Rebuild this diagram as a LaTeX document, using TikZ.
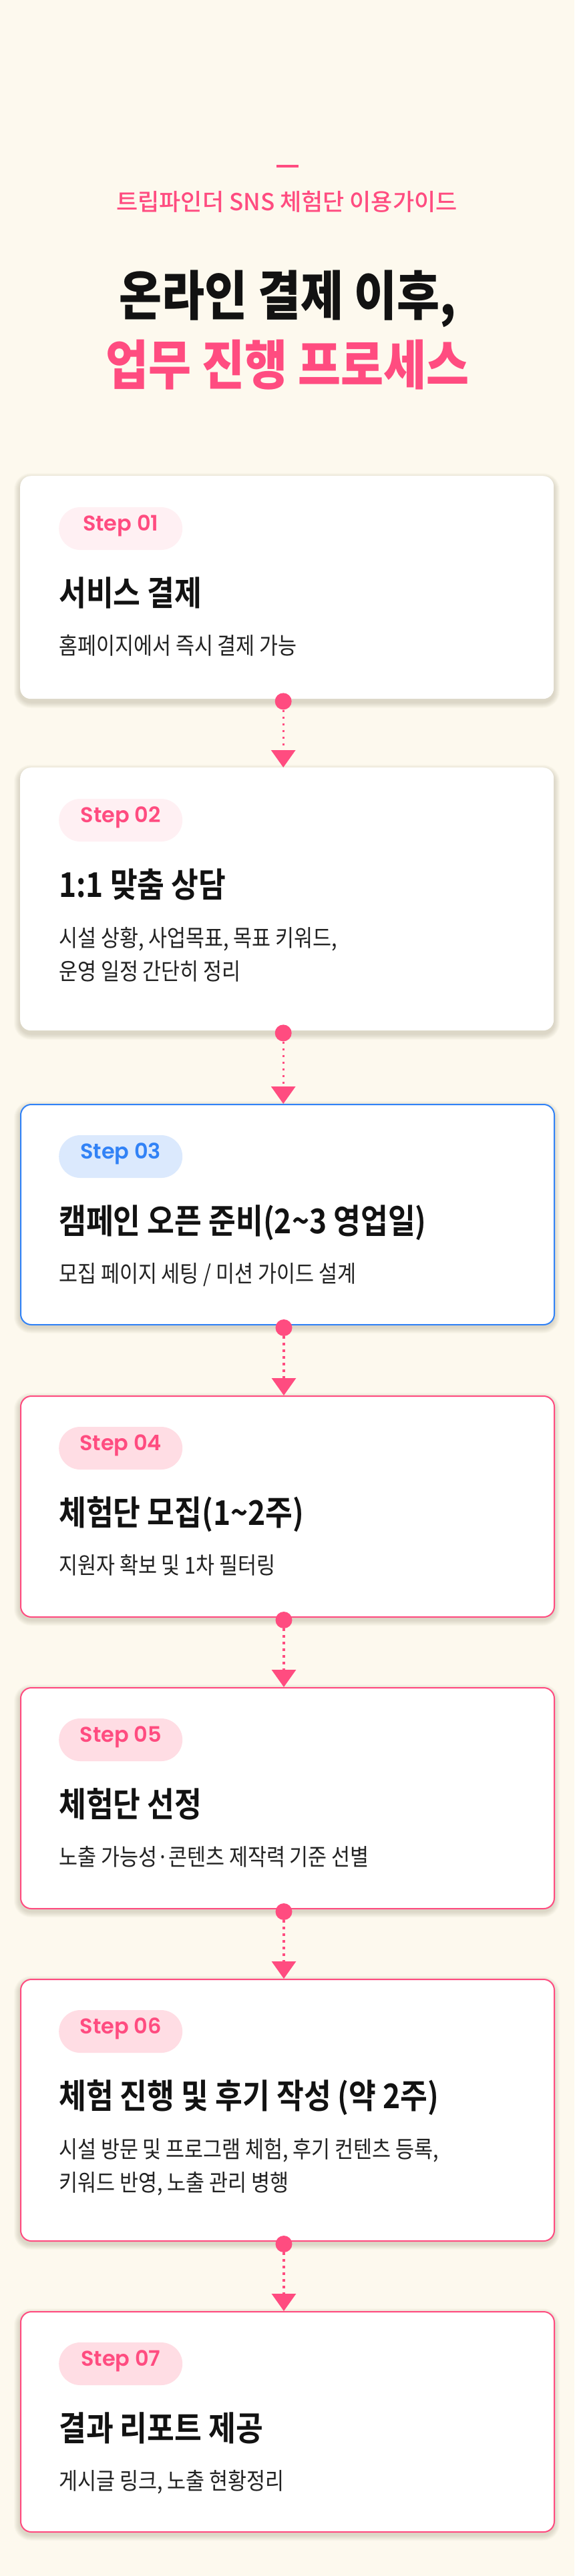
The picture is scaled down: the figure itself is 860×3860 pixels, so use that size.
\documentclass[tikz,border=0pt]{standalone}
\usepackage{fontspec}
\usetikzlibrary{arrows.meta,calc}

\IfFontExistsTF{Noto Sans CJK KR Bold}
  {\newfontfamily\krbold{Noto Sans CJK KR Bold}[FakeStretch=0.87]}
  {\newfontfamily\krbold{Noto Sans CJK KR}[FakeStretch=0.87,FakeBold=1.5]}
\IfFontExistsTF{Noto Sans CJK KR Black}
  {\newfontfamily\krblack{Noto Sans CJK KR Black}[FakeStretch=0.87]}
  {\IfFontExistsTF{Noto Sans CJK KR Bold}
     {\newfontfamily\krblack{Noto Sans CJK KR Bold}[FakeStretch=0.87,FakeBold=1.5]}
     {\newfontfamily\krblack{Noto Sans CJK KR}[FakeStretch=0.87,FakeBold=3]}}
\IfFontExistsTF{Noto Sans CJK KR Medium}
  {\newfontfamily\krmed{Noto Sans CJK KR Medium}}
  {\newfontfamily\krmed{Noto Sans CJK KR}[FakeBold=0.6]}
\newfontfamily\krreg{Noto Sans CJK KR}[FakeStretch=0.87]
\IfFontExistsTF{Poppins SemiBold}
  {\newfontfamily\stepfam{Poppins SemiBold}\newcommand\stepfont{\stepfam}}
  {\newfontfamily\stepfam{Poppins}\newcommand\stepfont{\stepfam\bfseries}}

\definecolor{bg}{HTML}{FDF9EE}
\definecolor{cpink}{HTML}{FF4C80}
\definecolor{cblue}{HTML}{3182F6}
\definecolor{pillpale}{HTML}{FFF0F3}
\definecolor{pillpink}{HTML}{FFDDE4}
\definecolor{pillblue}{HTML}{DBE9FD}
\definecolor{ink}{HTML}{121212}
\definecolor{ink2}{HTML}{222222}
\definecolor{shadowc}{HTML}{7A7050}

\newcommand\stepcard[4]{%
  \foreach \i in {1,...,9}{%
    \fill[shadowc, opacity=0.028, rounded corners={(16+\i)*1pt}]
      (30-\i, #2+5-\i) rectangle (829+\i, #2+#3+5+\i);
  }
  \node[card, #4, minimum height=#3pt] (#1) at (30,#2) {};
}

\begin{document}
\begin{tikzpicture}[x=1pt,y=-1pt,
  card/.style={rectangle, fill=white, rounded corners=16pt, minimum width=799pt,
    inner sep=0pt, anchor=north west},
  plaincard/.style={},
  bluecard/.style={draw=cblue, line width=2pt},
  pinkcard/.style={draw=cpink, line width=2pt},
  pill/.style={rectangle, rounded corners=32pt, minimum width=185pt, minimum height=64pt,
    inner sep=0pt, anchor=west, text height=0.7em, text depth=0pt,
    font=\stepfont\fontsize{32}{32}\selectfont},
  pillpaleS/.style={pill, fill=pillpale, text=cpink},
  pillpinkS/.style={pill, fill=pillpink, text=cpink},
  pillblueS/.style={pill, fill=pillblue, text=cblue},
  ttl/.style={anchor=base west, inner sep=0pt, font=\krbold\fontsize{51}{58}\selectfont, text=ink},
  dsc/.style={anchor=base west, inner sep=0pt, font=\krreg\fontsize{35}{50}\selectfont, text=ink2},
  dotn/.style={circle, fill=cpink, minimum size=25pt, inner sep=0pt},
  conn/.style={draw=cpink, line width=3.3pt, dash pattern=on 3.3pt off 6.7pt,
    -{Triangle[width=36pt,length=26pt]}}
]
\useasboundingbox (0,0) rectangle (860,3860);
\fill[bg] (0,0) rectangle (860,3860);

% header
\node[fill=cpink, minimum width=33pt, minimum height=3.5pt, inner sep=0pt] (dash) at (430.5,249) {};
\node[anchor=base, inner sep=0pt, font=\krmed\fontsize{35}{35}\selectfont, text=cpink] (sub) at (429.5,315) {트립파인더 SNS 체험단 이용가이드};
\node[anchor=base, inner sep=0pt, font=\krblack\fontsize{80}{80}\selectfont, text=ink] (h1) at (430.5,472) {온라인 결제 이후,};
\node[anchor=base, inner sep=0pt, font=\krblack\fontsize{80}{80}\selectfont, text=cpink] (h2) at (430.5,576) {업무 진행 프로세스};

% cards
\stepcard{c1}{713}{334}{plaincard}
\stepcard{c2}{1150}{394}{plaincard}
\stepcard{c3}{1654}{330}{bluecard}
\stepcard{c4}{2091}{331}{pinkcard}
\stepcard{c5}{2528}{331}{pinkcard}
\stepcard{c6}{2965}{392}{pinkcard}
\stepcard{c7}{3463}{330}{pinkcard}

% card contents
\node[pillpaleS] (p1) at ($(c1.north west)+(58,79)$) {Step 01};
\node[ttl] (t1) at ($(c1.north west)+(58,194)$) {서비스 결제};
\node[dsc] (s1) at ($(c1.north west)+(58,267)$) {홈페이지에서 즉시 결제 가능};

\node[pillpaleS] (p2) at ($(c2.north west)+(58,79)$) {Step 02};
\node[ttl] (t2) at ($(c2.north west)+(58,194)$) {1:1 맞춤 상담};
\node[dsc] (s2) at ($(c2.north west)+(58,268)$) {\begin{tabular}[t]{@{}l@{}}시설 상황, 사업목표, 목표 키워드,\\운영 일정 간단히 정리\end{tabular}};

\node[pillblueS] (p3) at ($(c3.north west)+(58,79)$) {Step 03};
\node[ttl] (t3) at ($(c3.north west)+(58,194)$) {캠페인 오픈 준비(2\textasciitilde 3 영업일)};
\node[dsc] (s3) at ($(c3.north west)+(58,267)$) {모집 페이지 세팅 / 미션 가이드 설계};

\node[pillpinkS] (p4) at ($(c4.north west)+(58,79)$) {Step 04};
\node[ttl] (t4) at ($(c4.north west)+(58,194)$) {체험단 모집(1\textasciitilde 2주)};
\node[dsc] (s4) at ($(c4.north west)+(58,267)$) {지원자 확보 및 1차 필터링};

\node[pillpinkS] (p5) at ($(c5.north west)+(58,79)$) {Step 05};
\node[ttl] (t5) at ($(c5.north west)+(58,194)$) {체험단 선정};
\node[dsc] (s5) at ($(c5.north west)+(58,267)$) {노출 가능성·콘텐츠 제작력 기준 선별};

\node[pillpinkS] (p6) at ($(c6.north west)+(58,79)$) {Step 06};
\node[ttl] (t6) at ($(c6.north west)+(58,194)$) {체험 진행 및 후기 작성 (약 2주)};
\node[dsc] (s6) at ($(c6.north west)+(58,268)$) {\begin{tabular}[t]{@{}l@{}}시설 방문 및 프로그램 체험, 후기 컨텐츠 등록,\\키워드 반영, 노출 관리 병행\end{tabular}};

\node[pillpinkS] (p7) at ($(c7.north west)+(58,79)$) {Step 07};
\node[ttl] (t7) at ($(c7.north west)+(58,194)$) {결과 리포트 제공};
\node[dsc] (s7) at ($(c7.north west)+(58,267)$) {게시글 링크, 노출 현황정리};

% connectors
\node[dotn] (d1) at ($(c1.south)+(-5.5,3.5)$) {};
\node[dotn] (d2) at ($(c2.south)+(-5.5,3.5)$) {};
\node[dotn] (d3) at ($(c3.south)+(-5.5,3.5)$) {};
\node[dotn] (d4) at ($(c4.south)+(-5.5,3.5)$) {};
\node[dotn] (d5) at ($(c5.south)+(-5.5,3.5)$) {};
\node[dotn] (d6) at ($(c6.south)+(-5.5,3.5)$) {};
\draw[conn] (d1) -- (d1 |- c2.north);
\draw[conn] (d2) -- (d2 |- c3.north);
\draw[conn] (d3) -- (d3 |- c4.north);
\draw[conn] (d4) -- (d4 |- c5.north);
\draw[conn] (d5) -- (d5 |- c6.north);
\draw[conn] (d6) -- (d6 |- c7.north);
\end{tikzpicture}
\end{document}
